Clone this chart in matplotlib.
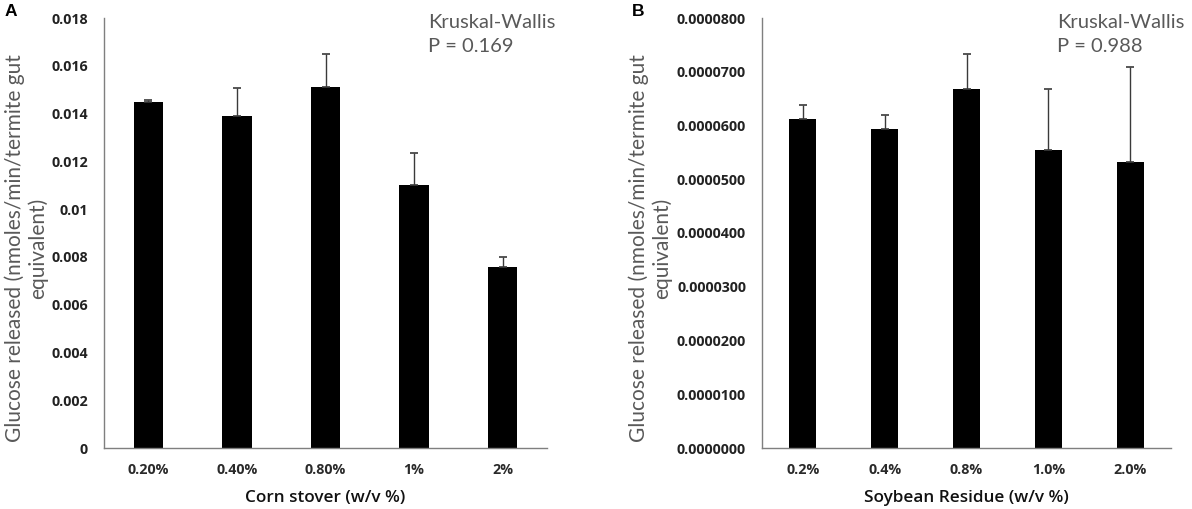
import matplotlib
matplotlib.use('Agg')
import matplotlib.pyplot as plt
import numpy as np

plt.rcParams['font.family'] = ['Lato', 'DejaVu Sans']

# Panel A: corn stover
corn_labels = ['0.20%', '0.40%', '0.80%', '1%', '2%']
corn_means = [0.01450, 0.01390, 0.01512, 0.01100, 0.00759]
corn_err = [0.00005, 0.00115, 0.00138, 0.00136, 0.00041]
corn_ticks = [0, 0.002, 0.004, 0.006, 0.008, 0.01, 0.012, 0.014, 0.016, 0.018]
corn_ticklabels = ['0', '0.002', '0.004', '0.006', '0.008', '0.01', '0.012',
                   '0.014', '0.016', '0.018']

# Panel B: soybean residue
soy_labels = ['0.2%', '0.4%', '0.8%', '1.0%', '2.0%']
soy_means = [0.0000612, 0.0000593, 0.0000667, 0.0000554, 0.0000532]
soy_err = [0.0000026, 0.0000027, 0.0000066, 0.0000113, 0.0000176]
soy_ticks = [0, 0.00001, 0.00002, 0.00003, 0.00004, 0.00005, 0.00006,
             0.00007, 0.00008]
soy_ticklabels = ['%.7f' % t for t in soy_ticks]

ylabel_text = 'Glucose released (nmoles/min/termite gut\nequivalent)'

fig = plt.figure(figsize=(11.92, 5.09), dpi=100)

axA = fig.add_axes([104 / 1192, 61 / 509, 443 / 1192, 430 / 509])
axB = fig.add_axes([762 / 1192, 61 / 509, 409 / 1192, 430 / 509])


def draw_panel(ax, labels, means, err, ticks, ticklabels, xlabel):
    x = np.arange(len(labels))
    ax.bar(x, means, width=0.33, color='black', zorder=2)
    ax.errorbar(x, means, yerr=[np.zeros(len(err)), err], fmt='none',
                ecolor='#3a3a3a', elinewidth=1.0, capsize=3, capthick=1.2,
                zorder=3)
    ax.set_xlim(-0.5, len(labels) - 0.5)
    ax.set_ylim(ticks[0], ticks[-1])
    ax.set_yticks(ticks)
    ax.set_yticklabels(ticklabels, fontsize=10.3, fontweight='bold',
                       color='#222222', family='Open Sans')
    ax.set_xticks(x)
    ax.set_xticklabels(labels, fontsize=10.3, fontweight='bold',
                       color='#2a2a2a', family='Open Sans')
    ax.tick_params(axis='both', length=0)
    ax.tick_params(axis='y', pad=11.5)
    ax.tick_params(axis='x', pad=10.5)
    for side in ['top', 'right']:
        ax.spines[side].set_visible(False)
    for side in ['left', 'bottom']:
        ax.spines[side].set_color('#7f7f7f')
        ax.spines[side].set_linewidth(1.0)
    ax.set_xlabel(xlabel, fontsize=12.3, fontweight='semibold', color='#111111',
                  family='Open Sans')
    ax.xaxis.set_label_coords(0.5, -(498 - 448) / 430, transform=ax.transAxes)
    ax.xaxis.label.set_va('center')


draw_panel(axA, corn_labels, corn_means, corn_err, corn_ticks,
           corn_ticklabels, 'Corn stover (w/v %)')
draw_panel(axB, soy_labels, soy_means, soy_err, soy_ticks,
           soy_ticklabels, 'Soybean Residue (w/v %)')

# y labels (two lines, grey)
for xc in [26, 650]:
    fig.text(xc / 1192, 1 - 248 / 509, ylabel_text, rotation=90, ha='center',
             va='center', multialignment='center', fontsize=15.0,
             color='#595959', linespacing=1.15)

# statistics annotations
fig.text(428 / 1192, 1 - 14 / 509, 'Kruskal-Wallis\nP = 0.169', ha='left',
         va='top', fontsize=14.5, color='#595959', linespacing=1.5)
fig.text(1057 / 1192, 1 - 14 / 509, 'Kruskal-Wallis\nP = 0.988', ha='left',
         va='top', fontsize=14.5, color='#595959', linespacing=1.5)

# panel letters
fig.text(5 / 1192, 1 - 4 / 509, 'A', ha='left', va='top', fontsize=12.5,
         fontweight='bold', family='Liberation Sans')
fig.text(632 / 1192, 1 - 4 / 509, 'B', ha='left', va='top', fontsize=12.5,
         fontweight='bold', family='Liberation Sans')

fig.savefig('out.png', dpi=100)
